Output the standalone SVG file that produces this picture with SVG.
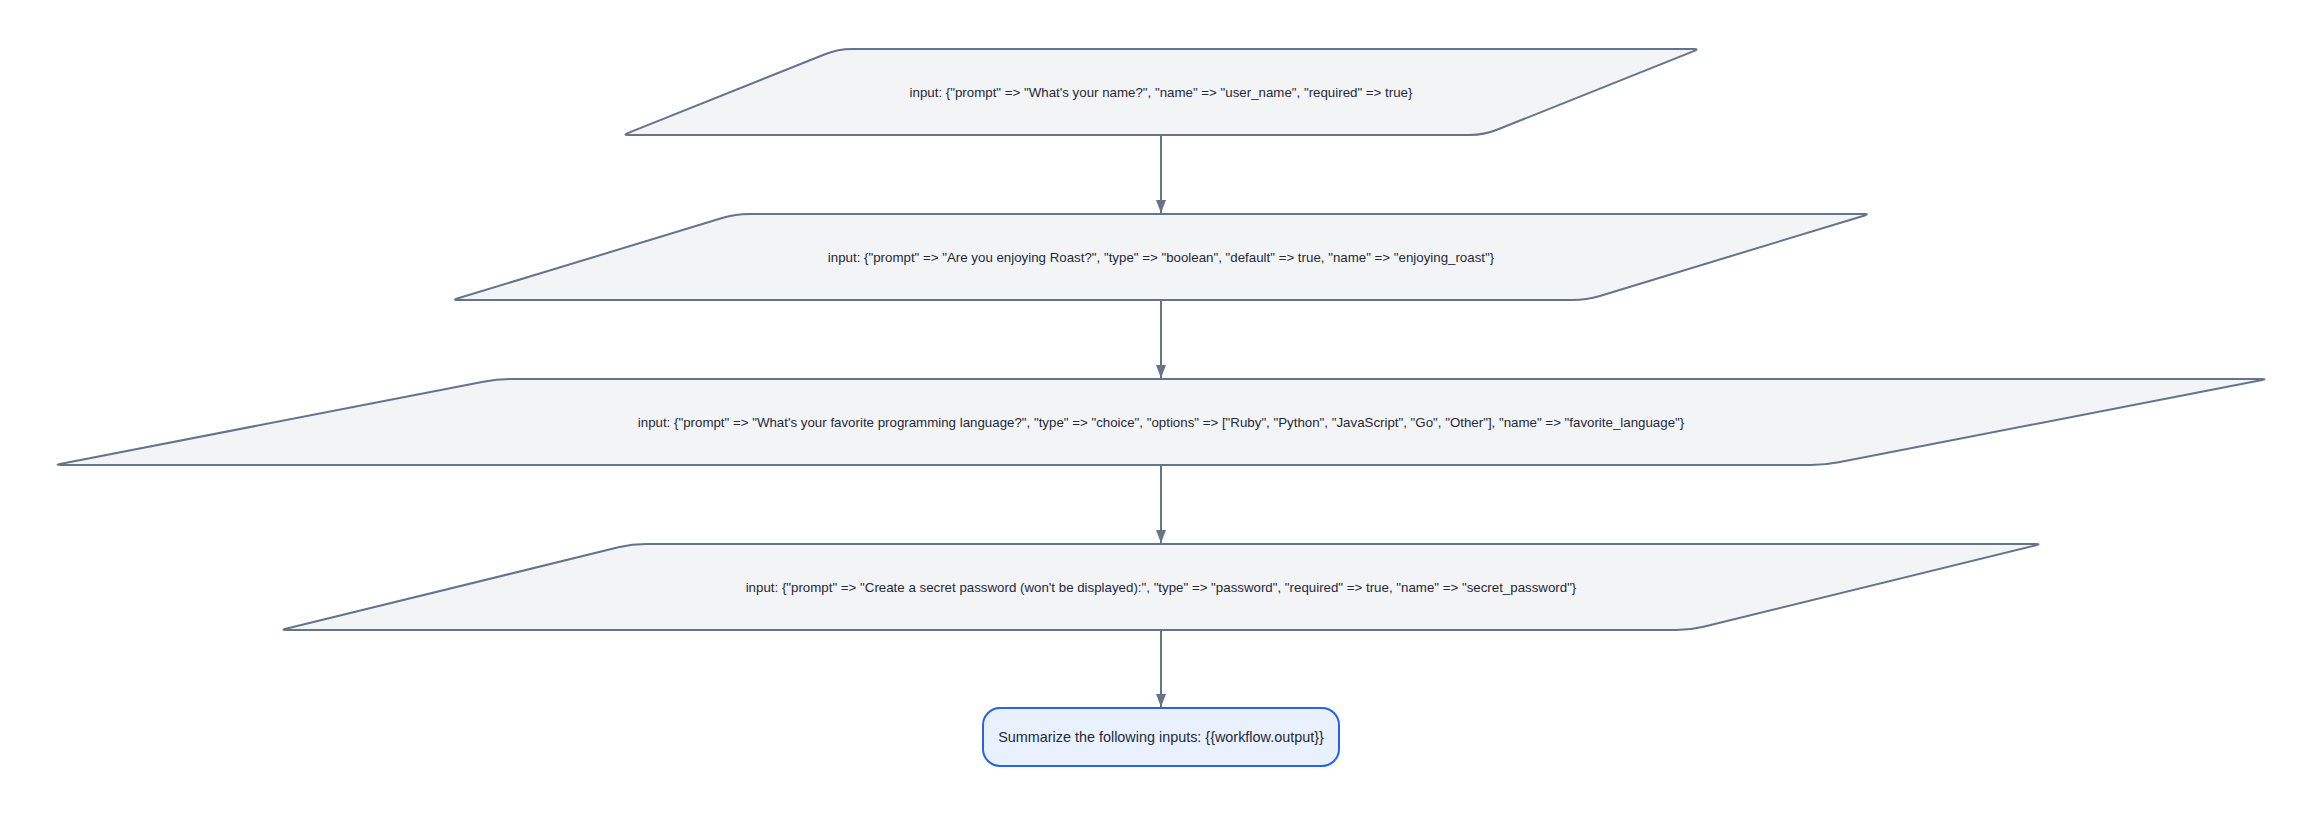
<svg xmlns="http://www.w3.org/2000/svg" width="2323" height="813" viewBox="0 0 2323 813">
  <style>
    .io { fill: #f3f4f6; stroke: #64748b; stroke-width: 2; }
    .io-label { font-family: "Liberation Sans", Arial, sans-serif; font-size: 13.3px; fill: #1f2937; text-anchor: middle; dominant-baseline: central; }
    .step { fill: #e8f1fd; stroke: #2563eb; stroke-width: 2; }
    .step-label { font-family: "Liberation Sans", Arial, sans-serif; font-size: 14.4px; fill: #1e293b; text-anchor: middle; dominant-baseline: central; }
    .edge { stroke: #64748b; stroke-width: 2; fill: none; }
  </style>
  <defs>
    <marker id="arrow" markerUnits="userSpaceOnUse" markerWidth="14" markerHeight="10" refX="13" refY="5" orient="auto">
      <path d="M0,0 L13,5 L0,10 Z" fill="#64748b"/>
    </marker>
  </defs>
  <rect width="2323" height="813" fill="#ffffff"/>

  <g transform="translate(0,1)">
    <g id="connectors">
      <line class="edge" x1="1161" y1="135" x2="1161" y2="212" marker-end="url(#arrow)"/>
      <line class="edge" x1="1161" y1="300" x2="1161" y2="377" marker-end="url(#arrow)"/>
      <line class="edge" x1="1161" y1="465" x2="1161" y2="542" marker-end="url(#arrow)"/>
      <line class="edge" x1="1161" y1="630" x2="1161" y2="706" marker-end="url(#arrow)"/>
    </g>

    <!-- lean-right input shapes: soft rounding on the obtuse corners, tight on the sharp tips -->
    <g id="input_user_name">
      <path class="io" d="M852,48 L1694,48 Q1699,48 1694.36,49.86 L1497,128.8 Q1484,134 1470,134 L628,134 Q623,134 627.64,132.14 L825,53.2 Q838,48 852,48 Z"/>
      <text class="io-label" x="1161" y="91">input: {"prompt" =&gt; "What's your name?", "name" =&gt; "user_name", "required" =&gt; true}</text>
    </g>

    <g id="input_enjoying_roast">
      <path class="io" d="M749.5,213 L1864.5,213 Q1869.5,213 1864.72,214.45 L1599.9,294.93 Q1586.5,299 1572.5,299 L457.5,299 Q452.5,299 457.28,297.55 L722.1,217.07 Q735.5,213 749.5,213 Z"/>
      <text class="io-label" x="1161" y="256">input: {"prompt" =&gt; "Are you enjoying Roast?", "type" =&gt; "boolean", "default" =&gt; true, "name" =&gt; "enjoying_roast"}</text>
    </g>

    <g id="input_favorite_language">
      <path class="io" d="M511,378 L2262,378 Q2267,378 2262.09,378.955 L1838.74,461.33 Q1825,464 1811,464 L60,464 Q55,464 59.91,463.045 L483.26,380.67 Q497,378 511,378 Z"/>
      <text class="io-label" x="1161" y="421">input: {"prompt" =&gt; "What's your favorite programming language?", "type" =&gt; "choice", "options" =&gt; ["Ruby", "Python", "JavaScript", "Go", "Other"], "name" =&gt; "favorite_language"}</text>
    </g>

    <g id="input_secret_password">
      <path class="io" d="M646,543 L2036,543 Q2041,543 2036.14,544.19 L1703.6,625.67 Q1690,629 1676,629 L286,629 Q281,629 285.86,627.81 L618.4,546.33 Q632,543 646,543 Z"/>
      <text class="io-label" x="1161" y="586">input: {"prompt" =&gt; "Create a secret password (won't be displayed):", "type" =&gt; "password", "required" =&gt; true, "name" =&gt; "secret_password"}</text>
    </g>

    <g id="summarize">
      <rect class="step" x="983" y="707" width="356" height="58" rx="17" ry="17"/>
      <text class="step-label" x="1161" y="736">Summarize the following inputs: {{workflow.output}}</text>
    </g>
  </g>
</svg>
